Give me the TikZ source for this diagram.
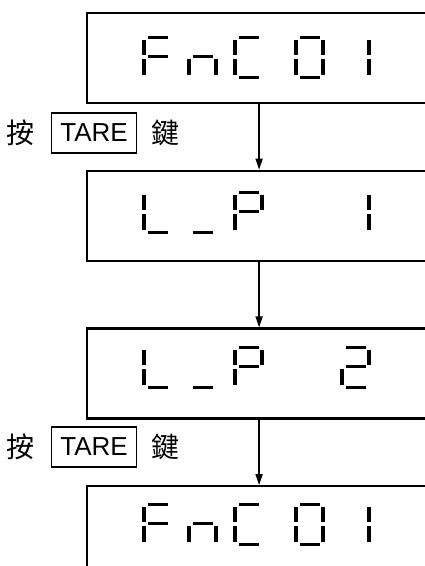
\documentclass[tikz,border=0pt]{standalone}
\usepackage{fontspec}
\newfontfamily\cjk{Noto Sans CJK TC}
\newfontfamily\keyfont{Liberation Sans}
\usetikzlibrary{positioning}
\usetikzlibrary{arrows.meta}

% seven segments of one LCD digit, origin at top left
\newcommand{\segA}{\fill (5.5,-0.5) rectangle (25.5,3);}
\newcommand{\segB}{\fill (26.5,3.5) rectangle (31,19);}
\newcommand{\segC}{\fill (26.5,23) rectangle (31,38.5);}
\newcommand{\segD}{\fill (5.5,39.5) rectangle (25.5,43);}
\newcommand{\segE}{\fill (-0.5,23) rectangle (4,38.5);}
\newcommand{\segF}{\fill (-0.5,3.5) rectangle (4,19);}
\newcommand{\segG}{\fill (5.5,18.5) rectangle (25.5,22);}
\newcommand{\lcddigit}[3]{%
  \begin{scope}[shift={(#1,#2)}]
    \foreach \s in {#3} {\csname seg\s\endcsname}
  \end{scope}}

\begin{document}
\begin{tikzpicture}[x=1pt,y=-1pt]
	\tikzstyle{lcd}=[draw, line width=2.2pt, anchor=north west, minimum width=344pt, minimum height=90pt, inner sep=0pt]
	\tikzstyle{keybox}=[draw, line width=1.8pt, minimum width=85pt, minimum height=40pt, inner sep=0pt, font=\keyfont\fontsize{26}{26}\selectfont]
	\tikzstyle{hanzi}=[inner sep=0pt, font=\cjk\fontsize{28}{28}\selectfont]
	\tikzstyle{flow}=[line width=1.6pt, -{Triangle[length=11pt,width=7pt]}]
	\useasboundingbox (0,0) rectangle (425,566);
	% display boxes
	\node [lcd] (fnc) at (86,12) {};
	\node [lcd, below=65.5pt of fnc.south west, anchor=north west] (lpone) {};
	\node [lcd, below=65.5pt of lpone.south west, anchor=north west] (lptwo) {};
	\node [lcd, below=65.5pt of lptwo.south west, anchor=north west] (fncend) {};
	% FnC 01
	\lcddigit{142}{36}{A,F,G,E}
	\lcddigit{187}{36}{C,E,G}
	\lcddigit{233}{36}{A,F,E,D}
	\lcddigit{294}{36}{A,B,C,D,E,F}
	\lcddigit{340}{36}{B,C}
	% L_P 1
	\lcddigit{142}{191}{F,E,D}
	\lcddigit{187}{191}{D}
	\lcddigit{233}{191}{A,B,F,G,E}
	\lcddigit{340}{191}{B,C}
	% L_P 2
	\lcddigit{142}{346}{F,E,D}
	\lcddigit{187}{346}{D}
	\lcddigit{233}{346}{A,B,F,G,E}
	\lcddigit{340}{346}{A,B,G,E,D}
	% FnC 01 again
	\lcddigit{142}{503}{A,F,G,E}
	\lcddigit{187}{503}{C,E,G}
	\lcddigit{233}{503}{A,F,E,D}
	\lcddigit{294}{503}{A,B,C,D,E,F}
	\lcddigit{340}{503}{B,C}
	% arrows
	\draw [flow] (fnc.south) -- (lpone.north);
	\draw [flow] (lpone.south) -- (lptwo.north);
	\draw [flow] (lptwo.south) -- (fncend.north);
	% key hints
	\node [keybox] (tareone) at (94,133) {TARE};
	\node [hanzi, left=16pt of tareone] (pressone) {按};
	\node [hanzi, right=14pt of tareone] (keyone) {鍵};
	\node [keybox] (taretwo) at (94,447) {TARE};
	\node [hanzi, left=16pt of taretwo] (presstwo) {按};
	\node [hanzi, right=14pt of taretwo] (keytwo) {鍵};
\end{tikzpicture}
\end{document}
